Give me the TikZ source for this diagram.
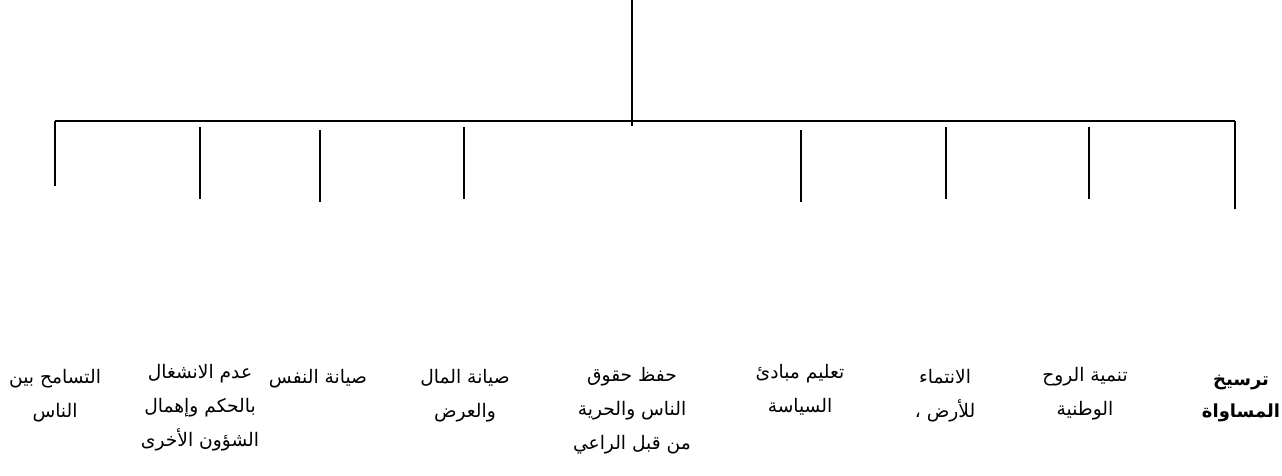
\documentclass[tikz,border=0pt]{standalone}
\usepackage{fontspec}
\newfontfamily\arabicfont[Script=Arabic]{DejaVu Sans}
\TeXXeTstate=1
\newcommand{\artxt}[1]{\beginR #1\endR}
\begin{document}
\begin{tikzpicture}[x=0.75pt,y=-0.75pt,
  lbl/.style={anchor=north,align=center,inner sep=0pt,
    font=\arabicfont\fontsize{14}{25.5}\selectfont},
  boldlbl/.style={lbl,font=\arabicfont\fontsize{13.5}{24}\selectfont\bfseries},
  bar/.style={line width=1.6pt},
  stem/.style={line width=0.9pt}]
\useasboundingbox (0,0) rectangle (1282,475);
% coordinates
\coordinate (top) at (632,0);
\coordinate (topend) at (632,126);
\coordinate (hl) at (55,121);
\coordinate (hr) at (1235,121);
\coordinate (a1) at (55,121);   \coordinate (b1) at (55,186);
\coordinate (a2) at (200,127);  \coordinate (b2) at (200,199);
\coordinate (a3) at (320,130);  \coordinate (b3) at (320,202);
\coordinate (a4) at (464,127);  \coordinate (b4) at (464,199);
\coordinate (a6) at (801,130);  \coordinate (b6) at (801,202);
\coordinate (a7) at (946,127);  \coordinate (b7) at (946,199);
\coordinate (a8) at (1089,127); \coordinate (b8) at (1089,199);
\coordinate (a9) at (1235,121); \coordinate (b9) at (1235,209);
% lines
\draw[stem] (top) -- (topend);
\draw[bar] (hl) -- (hr);
\foreach \i in {1,2,3,4,6,7,8,9} \draw[stem] (a\i) -- (b\i);
% labels
\node[lbl] (n1) at (55,369) {\artxt{التسامح بين}\\\artxt{الناس}};
\node[lbl] (n2) at (200,364) {\artxt{عدم الانشغال}\\\artxt{بالحكم وإهمال}\\\artxt{الشؤون الأخرى}};
\node[lbl] (n3) at (318,369) {\artxt{صيانة النفس}};
\node[lbl] (n4) at (465,369) {\artxt{صيانة المال}\\\artxt{والعرض}};
\node[lbl] (n5) at (632,367) {\artxt{حفظ حقوق}\\\artxt{الناس والحرية}\\\artxt{من قبل الراعي}};
\node[lbl] (n6) at (800,364) {\artxt{تعليم مبادئ}\\\artxt{السياسة}};
\node[lbl] (n7) at (945,369) {\artxt{الانتماء}\\\artxt{للأرض ،}};
\node[lbl] (n8) at (1085,367) {\artxt{تنمية الروح}\\\artxt{الوطنية}};
\node[boldlbl] (n9) at (1241,375) {\artxt{ترسيخ}\\\artxt{المساواة}};
\end{tikzpicture}
\end{document}
